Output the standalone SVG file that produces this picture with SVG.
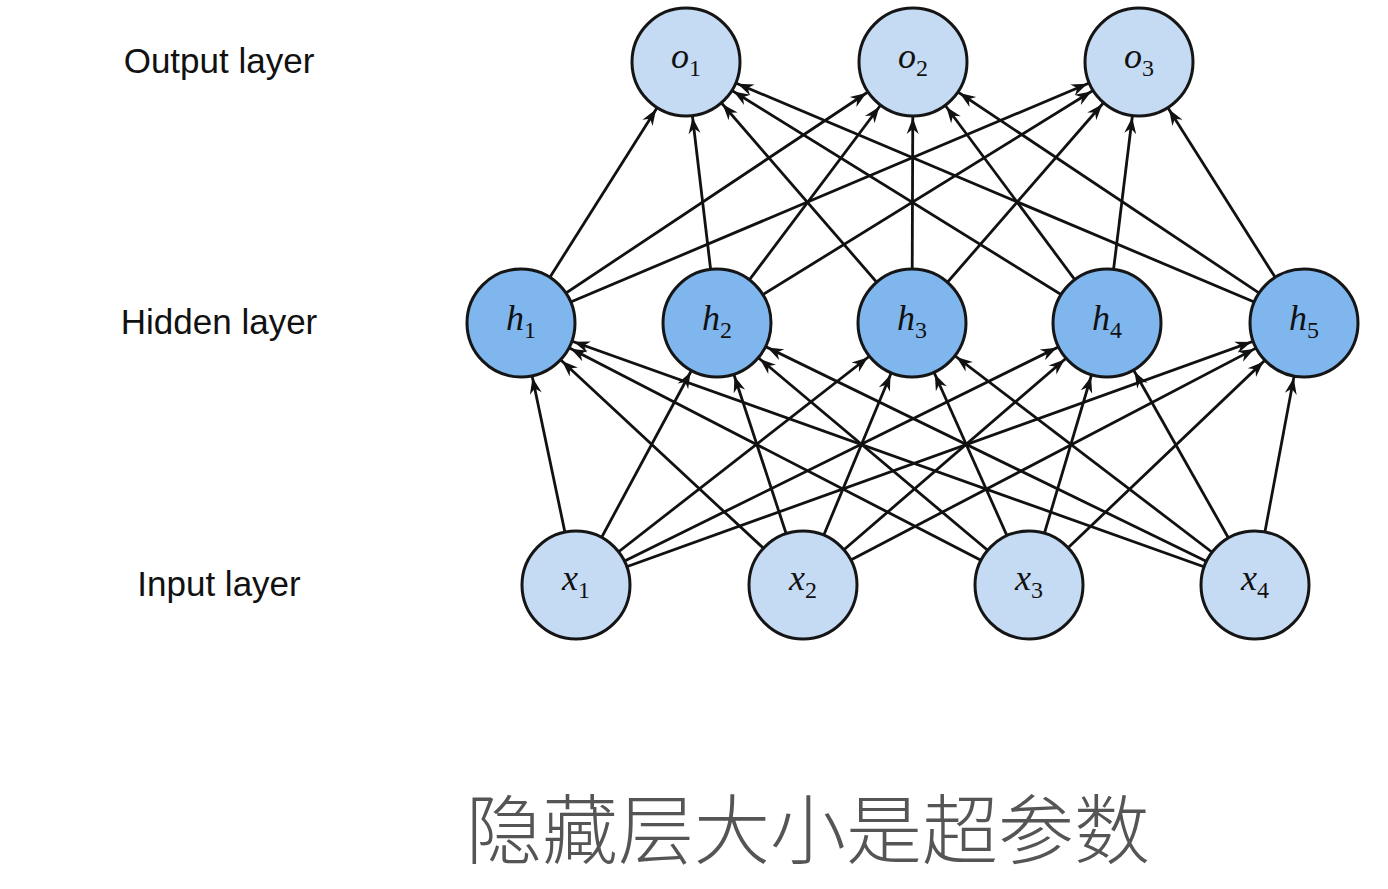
<svg xmlns="http://www.w3.org/2000/svg" width="1388" height="889" viewBox="0 0 1388 889">
<style>
.c line{stroke:#111;stroke-width:2.8;marker-end:url(#a)}
.in{fill:#c5dbf4;stroke:#151515;stroke-width:3}
.hd{fill:#80b6ee;stroke:#151515;stroke-width:3}
.lbl{font-family:"Liberation Sans",Arial,sans-serif;font-size:35px;fill:#111;text-anchor:middle}
.v{font-family:"Liberation Serif",serif;font-style:italic;font-size:36px;fill:#111;text-anchor:middle}
.v tspan{font-style:normal;font-size:24px}
</style>
<defs><marker id="a" markerUnits="userSpaceOnUse" refX="56" refY="0" viewBox="-20 -10 80 20" markerWidth="80" markerHeight="20" orient="auto" overflow="visible"><path d="M0,0 L-16,-6 L-11,0 L-16,6 z" fill="#111"/></marker></defs>
<rect width="1388" height="889" fill="#fff"/>
<g class="c">
<line x1="576" y1="585" x2="521" y2="323"/><line x1="576" y1="585" x2="717" y2="323"/><line x1="576" y1="585" x2="912" y2="323"/><line x1="576" y1="585" x2="1107" y2="323"/><line x1="576" y1="585" x2="1304" y2="323"/>
<line x1="803" y1="585" x2="521" y2="323"/><line x1="803" y1="585" x2="717" y2="323"/><line x1="803" y1="585" x2="912" y2="323"/><line x1="803" y1="585" x2="1107" y2="323"/><line x1="803" y1="585" x2="1304" y2="323"/>
<line x1="1029" y1="585" x2="521" y2="323"/><line x1="1029" y1="585" x2="717" y2="323"/><line x1="1029" y1="585" x2="912" y2="323"/><line x1="1029" y1="585" x2="1107" y2="323"/><line x1="1029" y1="585" x2="1304" y2="323"/>
<line x1="1255" y1="585" x2="521" y2="323"/><line x1="1255" y1="585" x2="717" y2="323"/><line x1="1255" y1="585" x2="912" y2="323"/><line x1="1255" y1="585" x2="1107" y2="323"/><line x1="1255" y1="585" x2="1304" y2="323"/>
<line x1="521" y1="323" x2="686" y2="62"/><line x1="521" y1="323" x2="913" y2="62"/><line x1="521" y1="323" x2="1139" y2="62"/>
<line x1="717" y1="323" x2="686" y2="62"/><line x1="717" y1="323" x2="913" y2="62"/><line x1="717" y1="323" x2="1139" y2="62"/>
<line x1="912" y1="323" x2="686" y2="62"/><line x1="912" y1="323" x2="913" y2="62"/><line x1="912" y1="323" x2="1139" y2="62"/>
<line x1="1107" y1="323" x2="686" y2="62"/><line x1="1107" y1="323" x2="913" y2="62"/><line x1="1107" y1="323" x2="1139" y2="62"/>
<line x1="1304" y1="323" x2="686" y2="62"/><line x1="1304" y1="323" x2="913" y2="62"/><line x1="1304" y1="323" x2="1139" y2="62"/>
</g>
<g id="o1"><circle class="in" cx="686" cy="62" r="54"/><text class="v" x="686" y="68">o<tspan dy="8">1</tspan></text></g>
<g id="o2"><circle class="in" cx="913" cy="62" r="54"/><text class="v" x="913" y="68">o<tspan dy="8">2</tspan></text></g>
<g id="o3"><circle class="in" cx="1139" cy="62" r="54"/><text class="v" x="1139" y="68">o<tspan dy="8">3</tspan></text></g>
<g id="h1"><circle class="hd" cx="521" cy="323" r="54"/><text class="v" x="521" y="330">h<tspan dy="8">1</tspan></text></g>
<g id="h2"><circle class="hd" cx="717" cy="323" r="54"/><text class="v" x="717" y="330">h<tspan dy="8">2</tspan></text></g>
<g id="h3"><circle class="hd" cx="912" cy="323" r="54"/><text class="v" x="912" y="330">h<tspan dy="8">3</tspan></text></g>
<g id="h4"><circle class="hd" cx="1107" cy="323" r="54"/><text class="v" x="1107" y="330">h<tspan dy="8">4</tspan></text></g>
<g id="h5"><circle class="hd" cx="1304" cy="323" r="54"/><text class="v" x="1304" y="330">h<tspan dy="8">5</tspan></text></g>
<g id="x1"><circle class="in" cx="576" cy="585" r="54"/><text class="v" x="576" y="590">x<tspan dy="8">1</tspan></text></g>
<g id="x2"><circle class="in" cx="803" cy="585" r="54"/><text class="v" x="803" y="590">x<tspan dy="8">2</tspan></text></g>
<g id="x3"><circle class="in" cx="1029" cy="585" r="54"/><text class="v" x="1029" y="590">x<tspan dy="8">3</tspan></text></g>
<g id="x4"><circle class="in" cx="1255" cy="585" r="54"/><text class="v" x="1255" y="590">x<tspan dy="8">4</tspan></text></g>
<text class="lbl" x="219" y="73">Output layer</text>
<text class="lbl" x="219" y="334">Hidden layer</text>
<text class="lbl" x="219" y="596">Input layer</text>
<text x="808" y="858" font-family="'Noto Sans CJK SC',sans-serif" font-size="76" font-weight="300" fill="#555" text-anchor="middle">隐藏层大小是超参数</text>
</svg>
